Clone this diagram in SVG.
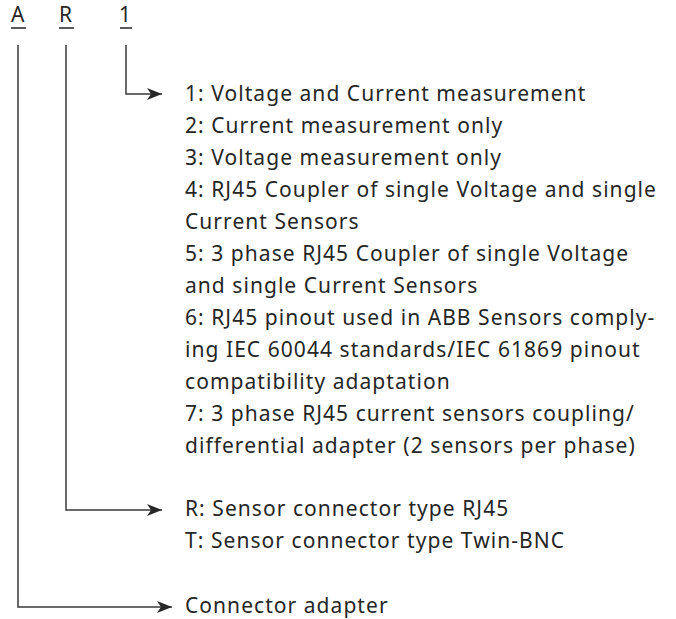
<svg xmlns="http://www.w3.org/2000/svg" width="676" height="619" viewBox="0 0 676 619">
<style>
text{font-family:"Noto Sans","Open Sans","Liberation Sans",sans-serif;font-size:21px;letter-spacing:1.05px;fill:#262626}
.c{fill:none;stroke:#3a3a3a;stroke-width:1.5}
.u{stroke:#262626;stroke-width:1.5}
</style>
<defs>
<marker id="ah" markerWidth="16" markerHeight="12" refX="15" refY="6" orient="auto" markerUnits="userSpaceOnUse">
<path d="M0,0 L15,6 L0,12 L4,6 Z" fill="#262626"/>
</marker>
</defs>
<rect width="676" height="619" fill="#fff"/>
<g id="code">
<text x="11" y="22" letter-spacing="0">A</text><line class="u" x1="11" y1="28" x2="26" y2="28"/>
<text x="59" y="22" letter-spacing="0">R</text><line class="u" x1="59" y1="28" x2="74" y2="28"/>
<text x="119" y="22" letter-spacing="0">1</text><line class="u" x1="120" y1="28" x2="132" y2="28"/>
</g>
<g id="connectors">
<path class="c" d="M126,45 V94 H162" marker-end="url(#ah)"/>
<path class="c" d="M66,45 V510 H162" marker-end="url(#ah)"/>
<path class="c" d="M18,45 V607 H172" marker-end="url(#ah)"/>
</g>
<g id="digit-options">
<text x="185" y="101">1: Voltage and Current measurement</text>
<text x="185" y="133">2: Current measurement only</text>
<text x="185" y="165">3: Voltage measurement only</text>
<text x="185" y="197">4: RJ45 Coupler of single Voltage and single</text>
<text x="185" y="229">Current Sensors</text>
<text x="185" y="261">5: 3 phase RJ45 Coupler of single Voltage</text>
<text x="185" y="293">and single Current Sensors</text>
<text x="185" y="325">6: RJ45 pinout used in ABB Sensors comply-</text>
<text x="185" y="357">ing IEC 60044 standards/IEC 61869 pinout</text>
<text x="185" y="389">compatibility adaptation</text>
<text x="185" y="421">7: 3 phase RJ45 current sensors coupling/</text>
<text x="185" y="453">differential adapter (2 sensors per phase)</text>
</g>
<g id="connector-options">
<text x="185" y="516">R: Sensor connector type RJ45</text>
<text x="185" y="548">T: Sensor connector type Twin-BNC</text>
</g>
<g id="adapter">
<text x="185" y="613">Connector adapter</text>
</g>
</svg>
